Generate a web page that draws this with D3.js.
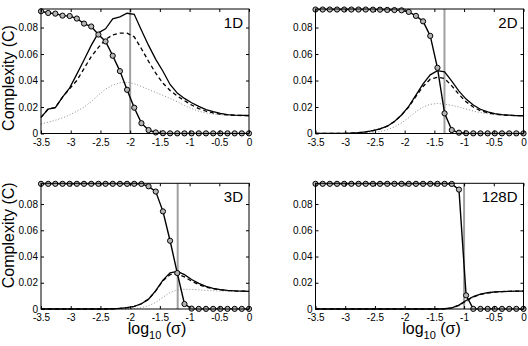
<!DOCTYPE html>
<html>
<head>
<meta charset="utf-8">
<script src="https://cdn.jsdelivr.net/npm/d3@7/dist/d3.min.js"></script>
<style>
  body { margin: 0; background: #fff; }
  svg text { font-family: "Liberation Sans", Arial, sans-serif; }
</style>
</head>
<body>
<div id="chart"></div>
<script>
// log10(sigma) sample points (30 per curve)
const xGrid = [-3.5, -3.379, -3.259, -3.138, -3.017, -2.897, -2.776, -2.655, -2.534, -2.414,
  -2.293, -2.172, -2.052, -1.931, -1.810, -1.690, -1.569, -1.448, -1.328, -1.207,
  -1.086, -0.966, -0.845, -0.724, -0.603, -0.483, -0.362, -0.241, -0.121, 0];

const panelNames = ["1D", "2D", "3D", "128D"];
const vLines = [-2.0, -1.33, -1.2, -1.0];

const xTicks = [-3.5, -3, -2.5, -2, -1.5, -1, -0.5, 0];
const xTickLabels = ["-3.5", "-3", "-2.5", "-2", "-1.5", "-1", "-0.5", "0"];
const yTicks = [0, 0.02, 0.04, 0.06, 0.08];
const yTickLabels = ["0", "0.02", "0.04", "0.06", "0.08"];

// 1D
const circ1D = [0.0923, 0.0910, 0.0905, 0.0890, 0.0887, 0.0868, 0.0830, 0.0808, 0.0747, 0.0695,
  0.0587, 0.0471, 0.0330, 0.0195, 0.0078, 0.0026, 0.0008, 0.0002, 0.0001, 0.0001,
  0.0001, 0.0001, 0.0001, 0.0001, 0.0001, 0.0001, 0.0001, 0.0001, 0.0001, 0.0001];
const solid1D = [0.0122, 0.0185, 0.0195, 0.0275, 0.0345, 0.0448, 0.0555, 0.0665, 0.0760, 0.0790,
  0.0865, 0.0880, 0.0908, 0.0900, 0.0780, 0.0665, 0.0560, 0.0470, 0.0370, 0.0305,
  0.0265, 0.0232, 0.0205, 0.0180, 0.0165, 0.0152, 0.0143, 0.0139, 0.0137, 0.0136];
const dash1D = [0.0122, 0.0185, 0.0195, 0.0275, 0.0340, 0.0400, 0.0490, 0.0580, 0.0650, 0.0710,
  0.0745, 0.0758, 0.0758, 0.0730, 0.0640, 0.0545, 0.0455, 0.0380, 0.0325, 0.0283,
  0.0248, 0.0215, 0.0188, 0.0168, 0.0155, 0.0146, 0.0140, 0.0137, 0.0136, 0.0135];
const dot1D = [0.0072, 0.0085, 0.0100, 0.0118, 0.0140, 0.0168, 0.0200, 0.0240, 0.0290, 0.0335,
  0.0365, 0.0383, 0.0387, 0.0375, 0.0355, 0.0332, 0.0310, 0.0288, 0.0265, 0.0240,
  0.0212, 0.0188, 0.0168, 0.0155, 0.0147, 0.0142, 0.0139, 0.0137, 0.0136, 0.0135];

// 2D
const circ2D = [0.0936, 0.0936, 0.0936, 0.0936, 0.0936, 0.0936, 0.0936, 0.0936, 0.0935, 0.0935,
  0.0933, 0.0932, 0.0930, 0.0918, 0.0888, 0.0847, 0.0737, 0.0496, 0.0152, 0.0026,
  0.0006, 0.0002, 0.0001, 0.0001, 0.0001, 0.0001, 0.0001, 0.0001, 0.0001, 0.0001];
const solid2D = [0.0001, 0.0001, 0.0001, 0.0001, 0.0001, 0.0003, 0.0006, 0.0012, 0.0022, 0.0035,
  0.0055, 0.0090, 0.0140, 0.0205, 0.0290, 0.0375, 0.0443, 0.0475, 0.0465, 0.0395,
  0.0320, 0.0260, 0.0215, 0.0183, 0.0163, 0.0150, 0.0142, 0.0138, 0.0135, 0.0134];
const dash2D = [0.0001, 0.0001, 0.0001, 0.0001, 0.0001, 0.0003, 0.0006, 0.0012, 0.0022, 0.0035,
  0.0055, 0.0090, 0.0140, 0.0200, 0.0280, 0.0355, 0.0410, 0.0425, 0.0415, 0.0360,
  0.0295, 0.0240, 0.0200, 0.0172, 0.0156, 0.0146, 0.0140, 0.0137, 0.0135, 0.0134];
const dot2D = [0, 0, 0, 0, 0, 0, 0, 0.0003, 0.0007, 0.0015,
  0.0028, 0.0050, 0.0080, 0.0120, 0.0165, 0.0200, 0.0220, 0.0227, 0.0222, 0.0212,
  0.0200, 0.0185, 0.0170, 0.0158, 0.0149, 0.0143, 0.0139, 0.0136, 0.0135, 0.0134];

// 3D
const circ3D = [0.0954, 0.0954, 0.0954, 0.0954, 0.0954, 0.0954, 0.0954, 0.0954, 0.0954, 0.0954,
  0.0954, 0.0954, 0.0954, 0.0954, 0.0953, 0.0935, 0.0895, 0.0744, 0.0520, 0.0274,
  0.0038, 0.0003, 0.0001, 0.0001, 0.0001, 0.0001, 0.0001, 0.0001, 0.0001, 0.0001];
const solid3D = [0, 0, 0, 0, 0, 0, 0, 0, 0, 0,
  0.0002, 0.0005, 0.0010, 0.0020, 0.0040, 0.0075, 0.0140, 0.0220, 0.0275, 0.0287,
  0.0262, 0.0225, 0.0195, 0.0172, 0.0158, 0.0148, 0.0142, 0.0138, 0.0136, 0.0135];
const dash3D = [0, 0, 0, 0, 0, 0, 0, 0, 0, 0,
  0.0002, 0.0005, 0.0010, 0.0020, 0.0040, 0.0075, 0.0138, 0.0215, 0.0262, 0.0268,
  0.0245, 0.0212, 0.0186, 0.0166, 0.0154, 0.0146, 0.0141, 0.0138, 0.0136, 0.0135];
const dot3D = [0, 0, 0, 0, 0, 0, 0, 0, 0, 0,
  0, 0, 0, 0.0003, 0.0010, 0.0025, 0.0050, 0.0090, 0.0125, 0.0145,
  0.0150, 0.0149, 0.0146, 0.0142, 0.0139, 0.0137, 0.0136, 0.0135, 0.0135, 0.0135];

// 128D
const circ128D = [0.0954, 0.0954, 0.0954, 0.0954, 0.0954, 0.0954, 0.0954, 0.0954, 0.0954, 0.0954,
  0.0954, 0.0954, 0.0954, 0.0954, 0.0954, 0.0954, 0.0954, 0.0954, 0.0954, 0.0953,
  0.0910, 0.0104, 0.0001, 0.0001, 0.0001, 0.0001, 0.0001, 0.0001, 0.0001, 0.0001];
const solid128D = [0, 0, 0, 0, 0, 0, 0, 0, 0, 0,
  0, 0, 0, 0, 0, 0, 0, 0, 0.0002, 0.0008,
  0.0030, 0.0065, 0.0095, 0.0113, 0.0124, 0.0130, 0.0133, 0.0135, 0.0136, 0.0136];
const dash128D = [0, 0, 0, 0, 0, 0, 0, 0, 0, 0,
  0, 0, 0, 0, 0, 0, 0, 0, 0.0002, 0.0008,
  0.0028, 0.0062, 0.0092, 0.0111, 0.0123, 0.0129, 0.0133, 0.0135, 0.0136, 0.0136];
const dot128D = [0, 0, 0, 0, 0, 0, 0, 0, 0, 0,
  0, 0, 0, 0, 0, 0, 0, 0, 0.0001, 0.0005,
  0.0022, 0.0055, 0.0088, 0.0109, 0.0122, 0.0129, 0.0133, 0.0135, 0.0136, 0.0136];

const circSeries = [circ1D, circ2D, circ3D, circ128D];
const solidSeries = [solid1D, solid2D, solid3D, solid128D];
const dashSeries = [dash1D, dash2D, dash3D, dash128D];
const dotSeries = [dot1D, dot2D, dot3D, dot128D];

const width = 528;
const height = 346;
const plotW = 208;
const lefts = [41, 315.5];
const tops = [9, 183.3];
const plotH = [124.5, 125.7];
const yMax = [0.094, 0.0958];
const yLabelMid = [69, 52]; // centre of rotated label, from panel top

const svg = d3.select("#chart")
  .append("svg")
  .attr("width", width)
  .attr("height", height);

panelNames.forEach((name, p) => {
  const col = p % 2;
  const row = Math.floor(p / 2);
  const h = plotH[row];

  const x = d3.scaleLinear().domain([-3.5, 0]).range([0, plotW]);
  const y = d3.scaleLinear().domain([0, yMax[row]]).range([h, 0]);

  const g = svg.append("g")
    .attr("transform", "translate(" + [lefts[col], tops[row]] + ")");

  // vertical marker line
  g.append("line")
    .attr("x1", x(vLines[p])).attr("x2", x(vLines[p]))
    .attr("y1", 0).attr("y2", h)
    .attr("stroke", "#a0a0a0")
    .attr("stroke-width", 2);

  const line = d3.line()
    .x((d, i) => x(xGrid[i]))
    .y(d => y(d));

  g.append("path")
    .attr("d", line(dotSeries[p]))
    .attr("fill", "none")
    .attr("stroke", "#8c8c8c")
    .attr("stroke-width", 1)
    .attr("stroke-dasharray", "1,2");

  g.append("path")
    .attr("d", line(dashSeries[p]))
    .attr("fill", "none")
    .attr("stroke", "#000")
    .attr("stroke-width", 1.3)
    .attr("stroke-dasharray", "4,3");

  g.append("path")
    .attr("d", line(solidSeries[p]))
    .attr("fill", "none")
    .attr("stroke", "#000")
    .attr("stroke-width", 1.3);

  g.append("path")
    .attr("d", line(circSeries[p]))
    .attr("fill", "none")
    .attr("stroke", "#000")
    .attr("stroke-width", 1.4);

  g.selectAll("circle.m")
    .data(circSeries[p])
    .enter()
    .append("circle")
    .attr("class", "m")
    .attr("cx", (d, i) => x(xGrid[i]))
    .attr("cy", d => y(d))
    .attr("r", 2.6)
    .attr("fill", "#b4b4b4")
    .attr("stroke", "#000")
    .attr("stroke-width", 1);

  // axes, ticks pointing inward on all four sides
  const styleAxis = sel => {
    sel.select(".domain").remove();
    sel.selectAll("line").attr("stroke", "#000");
    sel.selectAll("text")
      .attr("font-size", 10)
      .attr("fill", "#000");
  };

  g.append("g")
    .attr("transform", "translate(0," + h + ")")
    .call(d3.axisBottom(x).tickValues(xTicks).tickSize(-3).tickPadding(5)
      .tickFormat((d, i) => xTickLabels[i]))
    .call(styleAxis);

  g.append("g")
    .call(d3.axisTop(x).tickValues(xTicks).tickSize(-3).tickFormat(""))
    .call(styleAxis);

  g.append("g")
    .call(d3.axisLeft(y).tickValues(yTicks).tickSize(-3).tickPadding(3)
      .tickFormat((d, i) => yTickLabels[i]))
    .call(styleAxis);

  g.append("g")
    .attr("transform", "translate(" + plotW + ",0)")
    .call(d3.axisRight(y).tickValues(yTicks).tickSize(-3).tickFormat(""))
    .call(styleAxis);

  g.append("rect")
    .attr("width", plotW)
    .attr("height", h)
    .attr("fill", "none")
    .attr("stroke", "#000")
    .attr("stroke-width", 1);

  g.append("text")
    .attr("x", plotW - 6)
    .attr("y", 19)
    .attr("text-anchor", "end")
    .attr("font-size", 15)
    .text(name);

  if (col === 0) {
    g.append("text")
      .attr("transform", "translate(-27," + yLabelMid[row] + ") rotate(-90)")
      .attr("text-anchor", "middle")
      .attr("font-size", 16)
      .text("Complexity (C)");
  }

  if (row === 1) {
    const t = g.append("text")
      .attr("x", plotW / 2 + 12)
      .attr("y", h + 25)
      .attr("text-anchor", "middle")
      .attr("font-size", 16);
    t.append("tspan").text("log");
    t.append("tspan").attr("font-size", 11).attr("dy", 5).text("10");
    t.append("tspan").attr("dy", -5).text(" (\u03c3)");
  }
});
</script>
</body>
</html>
